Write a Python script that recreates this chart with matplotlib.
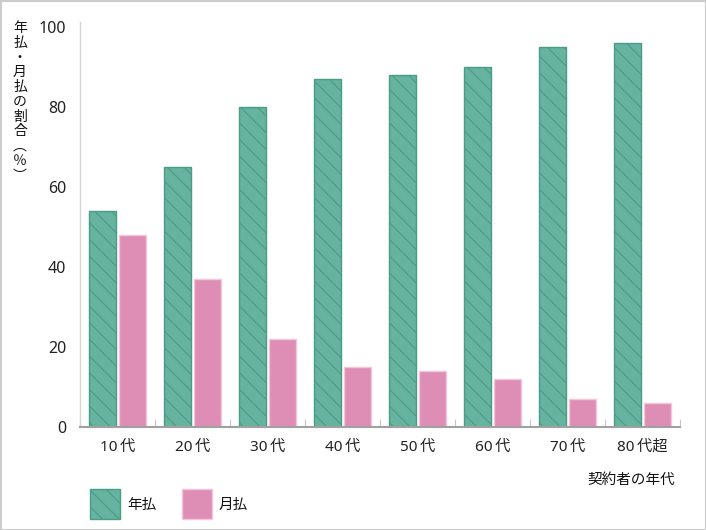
import numpy as np
import matplotlib.pyplot as plt
from matplotlib.patches import Rectangle

plt.rcParams['font.family'] = ['Noto Sans CJK JP', 'DejaVu Sans']
plt.rcParams['hatch.linewidth'] = 0.8

ages = ['10代', '20代', '30代', '40代', '50代', '60代', '70代', '80代超']
annual = [54, 65, 80, 87, 88, 90, 95, 96]
monthly = [48, 37, 22, 15, 14, 12, 7, 6]
yticks = [0, 20, 40, 60, 80, 100]

green = '#66b3a0'
green_edge = '#4a9c86'
pink = '#de8db4'
pink_edge = '#f3c6dc'
num_font = ['Noto Sans', 'Noto Sans CJK JP', 'DejaVu Sans']

fig = plt.figure(figsize=(7.06, 5.30), dpi=100)
ax = fig.add_axes([80 / 706, 103 / 530, 600 / 706, 405 / 530])

x = np.arange(len(ages))
ax.bar(x - 0.2, annual, width=0.36, color=green, edgecolor=green_edge,
       hatch='\\\\', linewidth=1.0, zorder=2)
ax.bar(x + 0.2, monthly, width=0.36, color=pink, edgecolor=pink_edge,
       linewidth=1.0, zorder=2)

ax.set_xlim(-0.5, len(ages) - 0.5)
ax.set_ylim(0, 100 * 405 / 400)
for s in ['top', 'right']:
    ax.spines[s].set_visible(False)
ax.spines['left'].set_color('#d6d6d6')
ax.spines['bottom'].set_color('#a0a0a0')
ax.spines['bottom'].set_linewidth(1.5)
ax.spines['left'].set_linewidth(1.0)

ax.set_yticks(yticks)
ax.set_yticklabels([str(v) for v in yticks], fontsize=11.5, color='#222222',
                   family=num_font)
ax.tick_params(axis='y', length=0, pad=10)

ax.set_xticks(x)
ax.set_xticklabels([a[:2] + '\u2009' + a[2:] for a in ages],
                   fontsize=11, color='#222222', family=num_font)
ax.tick_params(axis='x', length=0, pad=9)
ax.set_xticks(np.arange(len(ages) + 1) - 0.5, minor=True)
ax.tick_params(axis='x', which='minor', direction='in', length=6,
               color='#c8c8c8', width=0.8)

fig.text(20 / 706, 1 - 21 / 530, '\n'.join('年払・月払の割合︵％︶'),
         fontsize=10, ha='center', va='top', linespacing=1.07, color='#111111')
fig.text(675 / 706, 1 - 480 / 530, '契約者の年代', fontsize=10.5,
         ha='right', va='center', color='#111111')

fig.patches.append(Rectangle((90 / 706, 1 - 519 / 530), 30 / 706, 30 / 530,
                             transform=fig.transFigure, facecolor=green,
                             edgecolor=green_edge, hatch='\\\\', linewidth=1.0))
fig.text(127 / 706, 1 - 505 / 530, '年払', fontsize=10.5, va='center', color='#111111')
fig.patches.append(Rectangle((182 / 706, 1 - 519 / 530), 30 / 706, 30 / 530,
                             transform=fig.transFigure, facecolor=pink,
                             edgecolor=pink_edge, linewidth=1.0))
fig.text(219 / 706, 1 - 505 / 530, '月払', fontsize=10.5, va='center', color='#111111')

fig.patches.append(Rectangle((0.5 / 706, 0.5 / 530), 705 / 706, 529 / 530,
                             transform=fig.transFigure, facecolor='none',
                             edgecolor='#cccccc', linewidth=1.5))

fig.savefig('out.png', dpi=100)
